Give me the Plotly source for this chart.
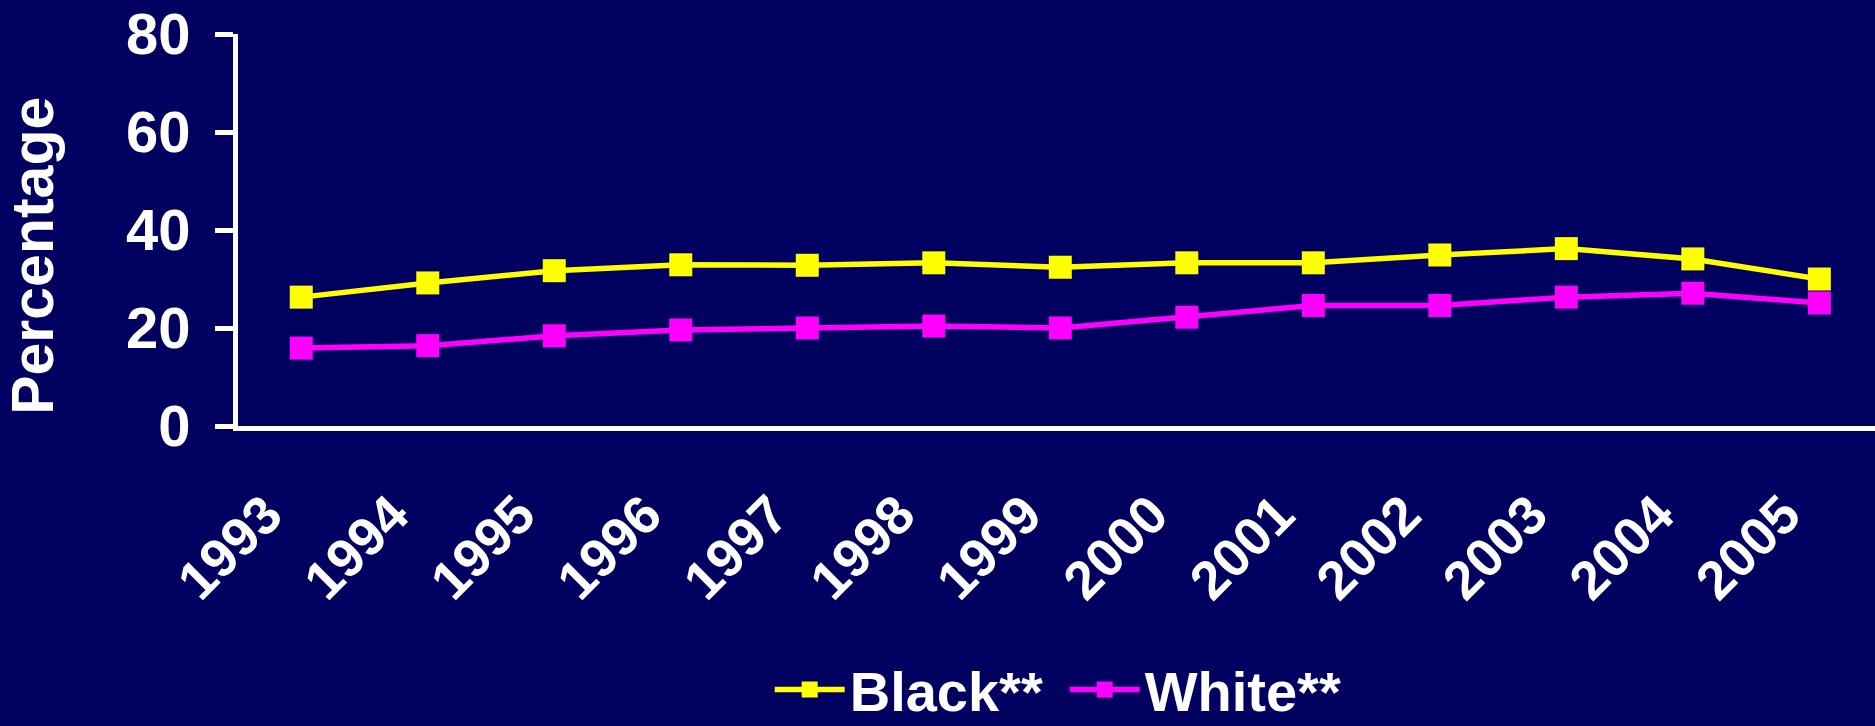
import plotly.graph_objects as go

years = ["1993", "1994", "1995", "1996", "1997", "1998", "1999",
         "2000", "2001", "2002", "2003", "2004", "2005"]
black = [26.3, 29.2, 31.7, 32.9, 32.8, 33.3, 32.4, 33.3, 33.3, 34.9, 36.2, 34.1, 30.0]
white = [15.9, 16.4, 18.4, 19.6, 20.0, 20.4, 20.0, 22.2, 24.6, 24.6, 26.3, 27.1, 25.1]
y_ticks = [0, 20, 40, 60, 80]

BG = "#000060"
FONT = "Arial, Liberation Sans, sans-serif"

fig = go.Figure()
fig.add_trace(go.Scatter(
    x=years, y=black, name="Black**", mode="lines+markers",
    line=dict(color="#FFFF00", width=5.5),
    marker=dict(symbol="square", size=23, color="#FFFF00"),
))
fig.add_trace(go.Scatter(
    x=years, y=white, name="White**", mode="lines+markers",
    line=dict(color="#FF00FF", width=5.5),
    marker=dict(symbol="square", size=23, color="#FF00FF"),
))

fig.update_layout(
    width=1875, height=726,
    paper_bgcolor=BG, plot_bgcolor=BG,
    margin=dict(l=238, r=0, t=34, b=300),
    font=dict(family=FONT, color="white", size=56, weight="bold"),
    showlegend=True,
    legend=dict(
        orientation="h", xref="paper", x=0.505, xanchor="center",
        yref="container", y=0.05, yanchor="middle",
        font=dict(size=56, weight="bold", color="white", family=FONT),
        itemwidth=70, entrywidth=210, entrywidthmode="pixels",
        bgcolor="rgba(0,0,0,0)",
    ),
    annotations=[dict(
        text="Percentage", textangle=-90, showarrow=False,
        xref="paper", x=-0.125, xanchor="center",
        yref="paper", y=0.435, yanchor="middle",
        font=dict(size=59, weight="bold", color="white", family=FONT),
    )],
)
fig.update_xaxes(
    type="category", range=[-0.5, 12.44],
    showline=True, linecolor="white", linewidth=5,
    showgrid=False, zeroline=False, ticks="",
    tickangle=-45, ticklabelstandoff=30, ticklabelshift=-35,
    tickfont=dict(size=54, weight="bold", color="white", family=FONT),
)
fig.update_yaxes(
    range=[0, 80], tickvals=y_ticks,
    showline=True, linecolor="white", linewidth=5,
    showgrid=False, zeroline=False,
    ticks="outside", ticklen=18, tickwidth=5, tickcolor="white",
    ticklabelstandoff=13,
    tickfont=dict(size=58, weight="bold", color="white", family=FONT),
)

fig.write_html("out.html")
